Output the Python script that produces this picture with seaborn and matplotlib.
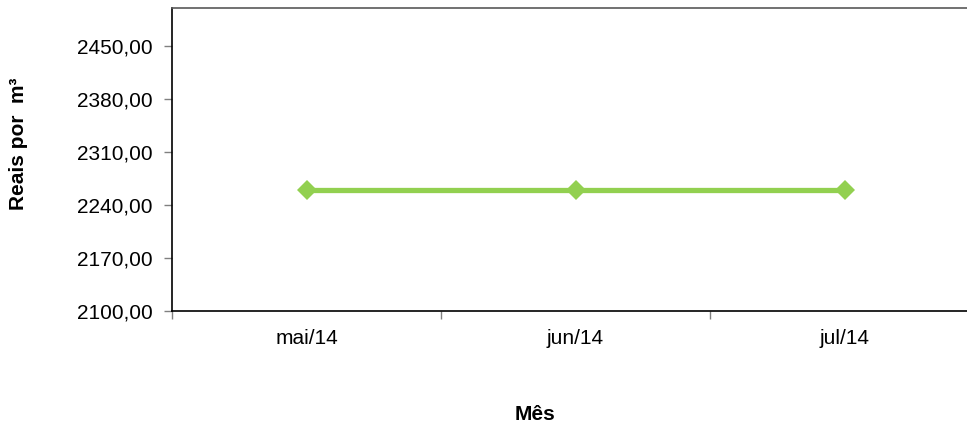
import matplotlib
matplotlib.use("Agg")
import matplotlib.pyplot as plt
import seaborn as sns
import pandas as pd
from matplotlib.ticker import FixedLocator, FuncFormatter

# Monthly price per cubic metre
months = ["mai/14", "jun/14", "jul/14"]
prices = [2260.0, 2260.0, 2260.0]
y_ticks = [2100, 2170, 2240, 2310, 2380, 2450]

sns.set_theme(style="white")
plt.rcParams["font.family"] = ["Liberation Sans", "DejaVu Sans"]
plt.rcParams["text.color"] = "#000000"

df = pd.DataFrame({"Mês": months, "Reais": prices})

fig = plt.figure(figsize=(9.67, 4.28), dpi=100)
ax = fig.add_axes([172 / 967, 1 - 311 / 428, 807 / 967, 303 / 428])

sns.lineplot(data=df, x="Mês", y="Reais", ax=ax, color="#92D050",
             linewidth=3.8, marker="D", markersize=10.5, markeredgewidth=0,
             sort=False)

ax.set_xlim(-0.5, 2.5)
ax.set_ylim(2100, 2500)

ax.yaxis.set_major_locator(FixedLocator(y_ticks))
ax.yaxis.set_major_formatter(FuncFormatter(lambda v, p: f"{v:.2f}".replace(".", ",")))

ax.set_xticks(range(len(months)))
ax.set_xticklabels(months)
ax.set_xticks([-0.5, 0.5, 1.5, 2.5], minor=True)

ax.tick_params(axis="y", which="major", direction="out", length=6, width=1,
               color="#808080", labelsize=15, pad=8, labelcolor="#000000", left=True)
ax.tick_params(axis="x", which="major", length=0, labelsize=15, pad=13,
               labelcolor="#000000", bottom=True)
ax.tick_params(axis="x", which="minor", direction="out", length=6, width=1,
               color="#808080", bottom=True)

for side in ["left", "bottom"]:
    ax.spines[side].set_color("#000000")
    ax.spines[side].set_linewidth(1.2)
ax.spines["top"].set_color("#595959")
ax.spines["top"].set_linewidth(1.2)
ax.spines["right"].set_visible(False)

ax.set_xlabel("")
ax.set_ylabel("")
fig.text(19 / 967, 1 - 144 / 428, "Reais por  m³", rotation=90, ha="center",
         va="center", fontsize=15, fontweight="bold", color="#000000")
fig.text(535 / 967, 1 - 415 / 428, "Mês", ha="center", va="center",
         fontsize=15, fontweight="bold", color="#000000")

fig.savefig("out.png", dpi=100, facecolor="white")
